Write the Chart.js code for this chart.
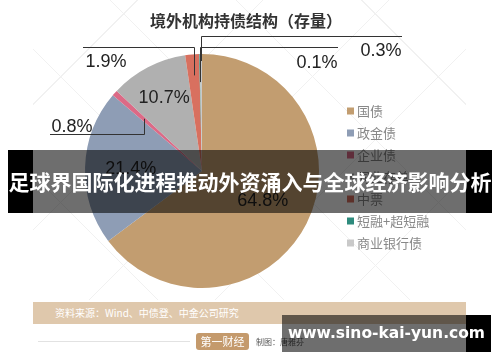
<!DOCTYPE html>
<html>
<head>
<meta charset="utf-8">
<script src="https://cdn.jsdelivr.net/npm/chart.js@4/dist/chart.umd.min.js"></script>
<style>
  html, body { margin:0; padding:0; background:#fff; }
  #wrap { position:relative; width:500px; height:362px; overflow:hidden; font-family:"Noto Sans CJK SC","Noto Sans",sans-serif; }
  #bg { position:absolute; left:33px; top:0; width:433px; height:300px;
        background:
          repeating-linear-gradient(45deg, transparent 0 88px, #f1f1f1 88px 89px),
          repeating-linear-gradient(-45deg, transparent 0 88px, #f1f1f1 88px 89px); }
  #c { position:absolute; left:0; top:0; }
  #title { position:absolute; left:0; width:492px; top:8px; text-align:center; font-size:16px; font-weight:bold; color:#333; }
  #src { position:absolute; left:33px; top:302px; width:433px; height:22px; background:#dfc8ac; color:#fff; font-size:10px; line-height:22px; }
  #src span { margin-left:22px; }
  #rule { position:absolute; left:38px; top:341px; width:152px; height:1px; background:#e2e2e2; }
  #logo { position:absolute; left:196px; top:333px; width:53px; height:17px; background:#c49a6c; border-radius:3px; color:#fff; font-size:11px; line-height:17px; text-align:center; }
  #maker { position:absolute; left:256px; top:336px; font-size:8px; color:#555; }
  .blk { position:absolute; background:#000; }
  .dim { position:absolute; background:rgba(0,0,0,0.57); }
  #banner { position:absolute; left:8px; top:150px; width:484px; height:63px; color:#fff; font-size:21px; font-weight:bold; line-height:63px; text-align:center; white-space:nowrap; }
  #wm { position:absolute; left:282px; top:315px; width:209px; height:37px; color:#fff; font-family:"DejaVu Sans",sans-serif; font-size:15.5px; font-weight:bold; line-height:37px; text-align:center; white-space:nowrap; }
</style>
</head>
<body>
<div id="wrap">
  <div id="bg"></div>
  <canvas id="c" width="500" height="362"></canvas>
  <div id="title">境外机构持债结构（存量）</div>
  <div id="src"><span>资料来源：Wind、中债登、中金公司研究</span></div>
  <div id="rule"></div>
  <div id="logo">第一财经</div>
  <div id="maker">制图：唐雅芬</div>

  <div class="blk" style="left:8px;top:150px;width:25px;height:63px"></div>
  <div class="dim" style="left:33px;top:150px;width:433px;height:63px"></div>
  <div class="blk" style="left:466px;top:150px;width:26px;height:63px"></div>
  <div id="banner">足球界国际化进程推动外资涌入与全球经济影响分析</div>

  <div class="dim" style="left:282px;top:315px;width:184px;height:37px"></div>
  <div class="blk" style="left:466px;top:315px;width:25px;height:37px"></div>
  <div id="wm">www.sino-kai-yun.com</div>
</div>
<script>
// 境外机构持债结构（存量），单位 %
const categories = ['国债', '政金债', '企业债', '同业存单', '中票', '短融+超短融', '商业银行债'];
const shares = [64.8, 21.4, 0.8, 10.7, 1.9, 0.1, 0.3];
const sliceColors = ['#c29d70', '#8e9db5', '#dc6a86', '#b0b0b0', '#d8705f', '#2e8b7d', '#c9c9c9'];

// label placement: inside slices (radius fraction) or callout with leader line
const inside = { 0: 0.58, 1: 0.61, 3: 0.70 };
const callouts = {
  2: { rf: 0.67, lineY: 134, lineEnd: 50,  tx: 72,  ty: 127 },
  4: { rf: 0.82, lineY: 47,  lineEnd: 83,  tx: 106, ty: 62 },
  5: { rf: 0.76, lineY: 47,  lineEnd: 338, tx: 317, ty: 63 },
  6: { rf: 0.94, lineY: 36,  lineEnd: 402, tx: 381, ty: 51 }
};

const pieLabels = {
  id: 'pieLabels',
  afterDatasetsDraw(chart) {
    const ctx = chart.ctx;
    const arcs = chart.getDatasetMeta(0).data;
    ctx.save();
    ctx.font = '18px "Liberation Sans", Arial, sans-serif';
    ctx.fillStyle = '#222';
    ctx.textAlign = 'center';
    ctx.textBaseline = 'middle';
    arcs.forEach((arc, i) => {
      const mid = (arc.startAngle + arc.endAngle) / 2;
      const txt = shares[i].toFixed(1) + '%';
      if (inside[i] !== undefined) {
        const r = arc.outerRadius * inside[i];
        ctx.fillText(txt, arc.x + Math.cos(mid) * r, arc.y + Math.sin(mid) * r);
      } else if (callouts[i]) {
        const c = callouts[i];
        const r = arc.outerRadius * c.rf;
        const px = arc.x + Math.cos(mid) * r;
        const py = arc.y + Math.sin(mid) * r;
        ctx.strokeStyle = '#333';
        ctx.lineWidth = 1;
        ctx.beginPath();
        ctx.moveTo(Math.round(px) + 0.5, py);
        ctx.lineTo(Math.round(px) + 0.5, c.lineY + 0.5);
        ctx.lineTo(c.lineEnd, c.lineY + 0.5);
        ctx.stroke();
        ctx.fillText(txt, c.tx, c.ty);
      }
    });
    ctx.restore();
  }
};

const sideLegend = {
  id: 'sideLegend',
  afterDraw(chart) {
    const ctx = chart.ctx;
    ctx.save();
    ctx.font = '13px "Noto Sans CJK SC", sans-serif';
    ctx.textBaseline = 'middle';
    categories.forEach((name, i) => {
      const y = 111 + i * 22;
      ctx.fillStyle = sliceColors[i];
      ctx.fillRect(347, y - 3.5, 7, 7);
      ctx.fillStyle = '#888';
      ctx.fillText(name, 357, y);
    });
    ctx.restore();
  }
};

new Chart(document.getElementById('c'), {
  type: 'pie',
  data: {
    labels: categories,
    datasets: [{
      data: shares,
      backgroundColor: sliceColors,
      borderWidth: 0
    }]
  },
  options: {
    responsive: false,
    animation: false,
    devicePixelRatio: 1,
    layout: { padding: { left: 85, right: 181, top: 54, bottom: 74 } },
    plugins: {
      legend: { display: false },
      tooltip: { enabled: false },
      title: { display: false }
    }
  },
  plugins: [pieLabels, sideLegend]
});
</script>
</body>
</html>
